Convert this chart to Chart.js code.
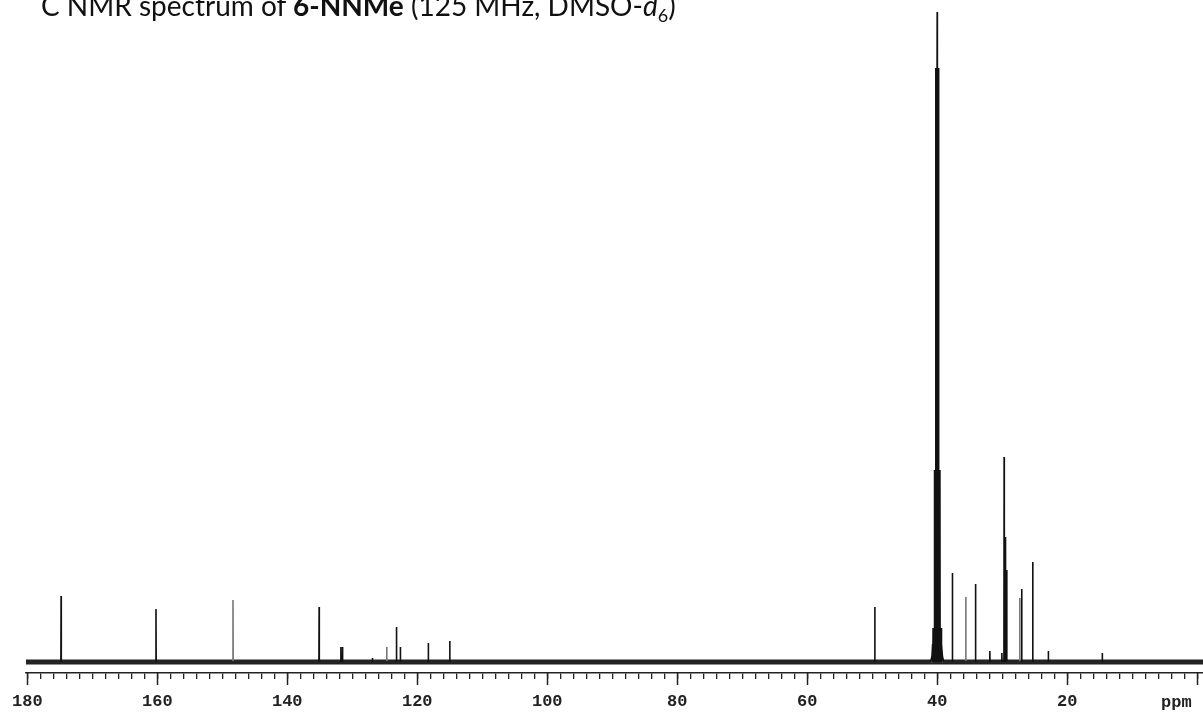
<!DOCTYPE html>
<html>
<head>
<meta charset="utf-8">
<script src="https://cdn.jsdelivr.net/npm/chart.js@4.4.1/dist/chart.umd.min.js"></script>
<style>
  html, body { margin: 0; padding: 0; background: #fff; overflow: hidden; }
  #wrap { position: relative; width: 1203px; height: 716px; overflow: hidden; }
  #title {
    position: absolute; left: 41px; top: -9px;
    font: 28px Lato, "Open Sans", sans-serif; color: #111;
    white-space: nowrap; line-height: 28px;
  }
  #title sub { font-size: 18px; line-height: 0; vertical-align: -6px; }
  #unit {
    position: absolute; left: 1161px; top: 693px;
    font: bold 17px "Liberation Mono", monospace; color: #222;
  }
</style>
</head>
<body>
<div id="wrap">
  <canvas id="nmr" width="1203" height="716"></canvas>
  <div id="title">C NMR spectrum of <b>6-NNMe</b> (125 MHz, DMSO-<i>d</i><sub>6</sub>)</div>
  <div id="unit">ppm</div>
</div>
<script>
// peak positions (ppm) and heights
const peakPpm    = [174.8, 160.2, 135.1, 131.75, 131.5, 126.9, 123.2, 122.6, 118.3, 115.0,
                    49.6, 40.63, 40.42, 40.21, 40.0, 39.79, 39.58, 39.37,
                    37.66, 34.1, 31.9, 30.05, 29.7, 29.5, 29.3, 27.0, 25.3, 22.9, 14.6];
const peakHeight = [66, 53, 55, 15, 15, 4, 35, 15, 19, 21,
                    55, 34, 192, 594, 650, 594, 192, 34,
                    89, 78, 11, 9, 205, 125, 92, 73, 100, 11, 9];

// fainter (grey) lines
const lightPpm    = [148.35, 124.7, 35.6, 27.3];
const lightHeight = [62, 15, 65, 64];

// broad foot under the solvent multiplet
const footPpm    = [41.0, 40.8, 40.7, 39.3, 39.2, 39.0];
const footHeight = [0, 6, 18, 18, 6, 0];

const majorTicks = [180, 160, 140, 120, 100, 80, 60, 40, 20, 0];
const minorTicks = [];
for (let v = 180; v >= 0; v -= 2) minorTicks.push(v);

const xMin = -0.9, xMax = 180.2;

function spikes(ppms, heights) {
  const pts = [];
  ppms.forEach((p, i) => {
    pts.push({ x: p + 0.03, y: 0 }, { x: p, y: heights[i] }, { x: p - 0.03, y: 0 });
  });
  return pts;
}

const spectrum = spikes(peakPpm, peakHeight)
  .concat(footPpm.map((p, i) => ({ x: p, y: footHeight[i] })))
  .concat([{ x: xMax, y: 0 }, { x: xMin, y: 0 }])
  .sort((a, b) => b.x - a.x);

const light = spikes(lightPpm, lightHeight)
  .concat([{ x: xMax, y: 0 }, { x: xMin, y: 0 }])
  .sort((a, b) => b.x - a.x);

const baseline = [{ x: xMax, y: 0 }, { x: xMin, y: 0 }];

// longer marks at the labelled ticks
const majorTickPlugin = {
  id: "majorTicks",
  afterDraw(chart) {
    const sx = chart.scales.x;
    const ctx = chart.ctx;
    const y0 = chart.chartArea.bottom;
    ctx.save();
    ctx.strokeStyle = "#222";
    ctx.lineWidth = 1.5;
    majorTicks.forEach(v => {
      const x = Math.round(sx.getPixelForValue(v)) + 0.5;
      ctx.beginPath();
      ctx.moveTo(x, y0);
      ctx.lineTo(x, y0 + 12);
      ctx.stroke();
    });
    ctx.restore();
  }
};

new Chart(document.getElementById("nmr").getContext("2d"), {
  type: "line",
  data: {
    datasets: [
      { data: spectrum, borderColor: "#111", borderWidth: 1.6 },
      { data: light, borderColor: "#777", borderWidth: 1.6 },
      { data: baseline, borderColor: "#222", borderWidth: 5 }
    ]
  },
  options: {
    responsive: false,
    animation: false,
    devicePixelRatio: 1,
    parsing: false,
    elements: { point: { radius: 0 }, line: { tension: 0 } },
    layout: { padding: { left: 26, right: 0, top: 0, bottom: 0 } },
    plugins: { legend: { display: false }, tooltip: { enabled: false } },
    scales: {
      x: {
        type: "linear",
        reverse: true,
        min: xMin,
        max: xMax,
        afterBuildTicks: scale => { scale.ticks = minorTicks.map(v => ({ value: v })); },
        afterFit: scale => { scale.height = 43; scale.paddingLeft = 0; scale.paddingRight = 0; },
        grid: { drawOnChartArea: false, drawTicks: true, tickLength: 6, color: "#222", lineWidth: 1.3 },
        border: { display: true, color: "#222", width: 1.5 },
        ticks: {
          autoSkip: false,
          maxRotation: 0,
          padding: 13,
          color: "#222",
          font: { family: "Liberation Mono", weight: "bold", size: 17 },
          callback: v => (majorTicks.includes(v) && v !== 0 ? String(v) : "")
        }
      },
      y: { display: false, min: -11, max: 662 }
    }
  },
  plugins: [majorTickPlugin]
});
</script>
</body>
</html>
